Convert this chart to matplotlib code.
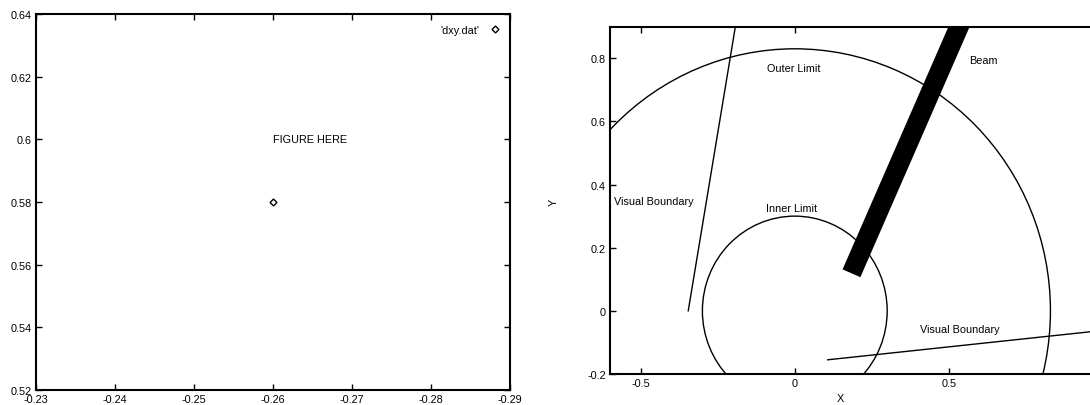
import matplotlib
matplotlib.use('Agg')
import matplotlib.pyplot as plt
from matplotlib.patches import Circle
from matplotlib.ticker import FixedLocator, FuncFormatter

plt.rcParams['font.family'] = ['Liberation Sans', 'DejaVu Sans']
plt.rcParams['axes.unicode_minus'] = False
plt.rcParams['font.size'] = 7.8

# left panel data
dxy_x = [-0.26]
dxy_y = [0.58]
left_xticks = [-0.23, -0.24, -0.25, -0.26, -0.27, -0.28, -0.29]
left_yticks = [0.52, 0.54, 0.56, 0.58, 0.60, 0.62, 0.64]

# right panel data
outer_radius = 0.83
inner_radius = 0.30
beam_x = [0.184, 0.578]
beam_y = [0.119, 1.0]
boundary1_x = [-0.346, -0.193]
boundary1_y = [0.0, 0.9]
boundary2_x = [0.107, 1.0]
boundary2_y = [-0.155, -0.062]
right_xticks = [-0.5, 0, 0.5]
right_yticks = [-0.2, 0, 0.2, 0.4, 0.6, 0.8]

fmt = FuncFormatter(lambda v, p: '%g' % round(v, 4))

fig = plt.figure(figsize=(10.9, 4.06), dpi=100)
W, H = 1090.0, 406.0

# ---- left ----
ax1 = fig.add_axes([36 / W, (H - 391) / H, (510 - 36) / W, (391 - 15) / H])
ax1.plot(dxy_x, dxy_y, 'D', color='black', mfc='white', ms=3.5, mew=1.0, label="'dxy.dat'")
ax1.set_xlim(-0.23, -0.29)
ax1.set_ylim(0.52, 0.64)
ax1.xaxis.set_major_locator(FixedLocator(left_xticks))
ax1.yaxis.set_major_locator(FixedLocator(left_yticks))
ax1.xaxis.set_major_formatter(fmt)
ax1.yaxis.set_major_formatter(fmt)
ax1.text(-0.26, 0.60, 'FIGURE HERE', ha='left', va='center')
ax1.legend(loc='upper right', frameon=False, markerfirst=False, handlelength=0.8,
           handletextpad=1.0, borderaxespad=0.6)

# ---- right ----
x0, x1 = -0.6, 1.0
px_left, px_per = 610.0, 308.0
ax2 = fig.add_axes([px_left / W, 31 / H, (x1 - x0) * px_per / W, (375 - 27.7) / H])
ax2.add_patch(Circle((0, 0), outer_radius, fill=False, color='black', lw=1.0))
ax2.add_patch(Circle((0, 0), inner_radius, fill=False, color='black', lw=1.0))
ax2.plot(boundary1_x, boundary1_y, color='black', lw=1.0)
ax2.plot(boundary2_x, boundary2_y, color='black', lw=1.0)
ax2.plot(beam_x, beam_y, color='black', lw=14, solid_capstyle='butt')
ax2.text(-0.089, 0.77, 'Outer Limit', ha='left', va='center')
ax2.text(0.565, 0.796, 'Beam', ha='left', va='center')
ax2.text(-0.095, 0.327, 'Inner Limit', ha='left', va='center')
ax2.text(-0.588, 0.348, 'Visual Boundary', ha='left', va='center')
ax2.text(0.406, -0.056, 'Visual Boundary', ha='left', va='center')
ax2.set_xlim(x0, x1)
ax2.set_ylim(-0.2, 0.9)
ax2.xaxis.set_major_locator(FixedLocator(right_xticks))
ax2.yaxis.set_major_locator(FixedLocator(right_yticks))
ax2.xaxis.set_major_formatter(fmt)
ax2.yaxis.set_major_formatter(fmt)
ax2.set_xlabel('X')
ax2.set_ylabel('Y')
ax2.xaxis.set_label_coords(0.467, -0.055)
ax2.yaxis.set_label_coords(-0.103, 0.498)

for ax in (ax1, ax2):
    ax.tick_params(direction='in', length=4, width=1, top=True, right=True, pad=3)
    for s in ax.spines.values():
        s.set_linewidth(1.5)

fig.savefig('out.png', dpi=100)
